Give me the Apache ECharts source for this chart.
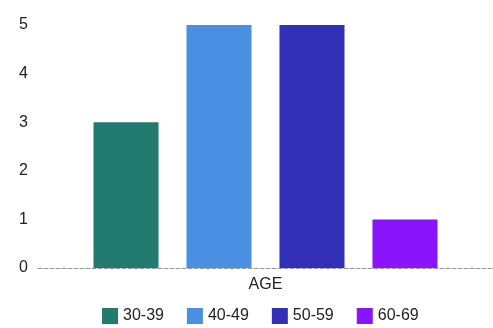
<!DOCTYPE html>
<html>
<head>
<meta charset="utf-8">
<script src="https://cdn.jsdelivr.net/npm/echarts@6/dist/echarts.min.js"></script>
<style>
html,body{margin:0;padding:0;background:#fff;}
#chart{width:493px;height:328px;}
</style>
</head>
<body>
<div id="chart"></div>
<script>
// Age distribution: one category, one series per age band
const categories = ['AGE'];
const ageBands = ['30-39', '40-49', '50-59', '60-69'];
const counts = [3, 5, 5, 1];
const colors = ['#237a6e', '#4a90e2', '#3330b8', '#8a14fa'];
const yTicks = [0, 1, 2, 3, 4, 5];

const chart = echarts.init(document.getElementById('chart'), null, {renderer: 'canvas'});

const series = ageBands.map((name, i) => ({
  name: name,
  type: 'bar',
  data: [counts[i]],
  barGap: '43%',
  barCategoryGap: '24.4%',
  itemStyle: {color: colors[i]}
}));

chart.setOption({
  animation: false,
  textStyle: {fontFamily: 'Liberation Sans, Arial, sans-serif'},
  grid: {left: 38, right: 0, top: 25, bottom: 60},
  legend: {
    top: 308,
    left: 102,
    padding: 0,
    itemWidth: 16,
    itemHeight: 16,
    itemGap: 23,
    icon: 'rect',
    textStyle: {fontSize: 16, color: '#222'},
    data: ageBands
  },
  xAxis: {
    type: 'category',
    data: categories,
    axisTick: {show: false},
    axisLine: {lineStyle: {color: '#999', type: 'dashed', width: 1}},
    axisLabel: {fontSize: 16, color: '#222', margin: 9}
  },
  yAxis: {
    type: 'value',
    min: yTicks[0],
    max: yTicks[yTicks.length - 1],
    interval: 1,
    splitLine: {show: false},
    axisLine: {show: false},
    axisTick: {show: false},
    axisLabel: {fontSize: 16, color: '#222', margin: 10}
  },
  series: series
});
</script>
</body>
</html>
